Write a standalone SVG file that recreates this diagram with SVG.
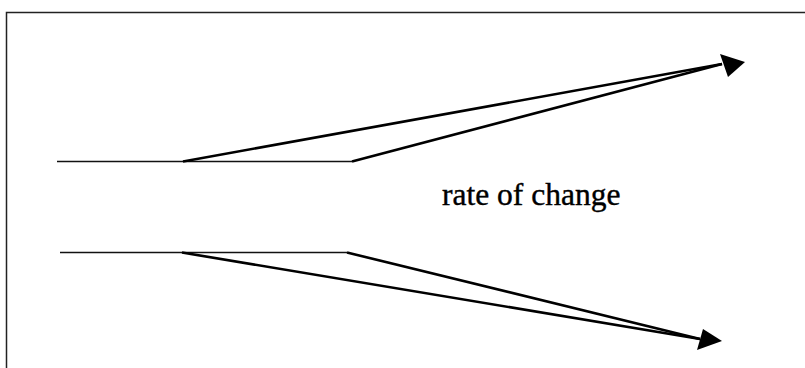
<svg xmlns="http://www.w3.org/2000/svg" width="805" height="368" viewBox="0 0 805 368">
<style>
.ln{fill:none;stroke:#000;stroke-width:2.6;stroke-linejoin:miter}
.thin{fill:none;stroke:#111;stroke-width:1.6}
.hd{fill:#000}
.lbl{font-family:"Liberation Serif","Times New Roman",serif;font-size:31.5px;fill:#000;stroke:#000;stroke-width:0.4}
</style>
<rect width="805" height="368" fill="#fff"/>
<g id="frame">
<path d="M6.5 368 V12.5 H805" fill="none" stroke="#222" stroke-width="1.5"/>
</g>
<g id="connectors">
<path class="thin" d="M57 161.5 H352"/>
<path class="ln" d="M183 161.5 L722 64"/>
<path class="ln" d="M352 161.5 L722 64"/>
<polygon class="hd" points="745,62 720,54 728,77"/>
<path class="thin" d="M60 252.5 H347"/>
<path class="ln" d="M182 252.5 L700 339"/>
<path class="ln" d="M347 252.5 L700 339"/>
<polygon class="hd" points="722,341 703,329 697,350"/>
</g>
<g id="label">
<text class="lbl" x="442" y="205">rate of change</text>
</g>
</svg>
